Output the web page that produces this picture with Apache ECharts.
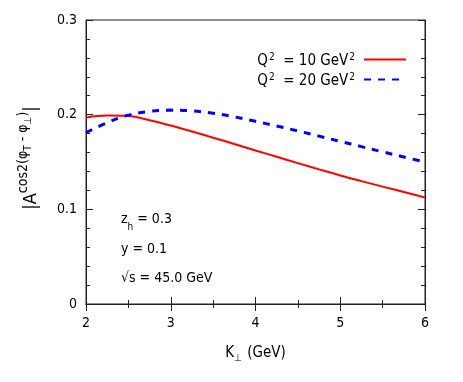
<!DOCTYPE html>
<html>
<head>
<meta charset="utf-8">
<script src="https://cdn.jsdelivr.net/npm/echarts@6/dist/echarts.min.js"></script>
<style>html,body{margin:0;padding:0;background:#fff;}#c{width:463px;height:382px;}</style>
</head>
<body>
<div id="c"></div>
<script>
const kPerp = [2.0, 2.25, 2.5, 2.75, 3.0, 3.25, 3.5, 3.75, 4.0, 4.25, 4.5, 4.75, 5.0, 5.25, 5.5, 5.75, 6.0];
const q2_10 = [0.1970, 0.1990, 0.1985, 0.1942, 0.1885, 0.1822, 0.1757, 0.1690, 0.1622, 0.1555, 0.1488, 0.1422, 0.1358, 0.1298, 0.1240, 0.1183, 0.1125];
const q2_20 = [0.1810, 0.1915, 0.1995, 0.2035, 0.2048, 0.2040, 0.2015, 0.1977, 0.1930, 0.1880, 0.1828, 0.1773, 0.1718, 0.1662, 0.1607, 0.1553, 0.1500];
const seriesNames = ['Q2 = 10', 'Q2 = 20'];
const legendValues = ['10', '20'];
const yTickLabels = {0: '0', 0.1: '0.1', 0.2: '0.2', 0.3: '0.3'};

const FONT = '"DejaVu Sans Condensed", "DejaVu Sans"';
const chart = echarts.init(document.getElementById('c'), null, {renderer: 'canvas'});

function pairs(xs, ys) { return xs.map((x, i) => [x, ys[i]]); }

const AX = '#222';
const axisLine = {show: true, lineStyle: {color: AX, width: 1}};
const axisTick = {show: true, inside: true, length: 7, lineStyle: {color: AX}};
const minorX = {show: true, splitNumber: 2, length: 4, lineStyle: {color: AX}};
const minorY = {show: true, splitNumber: 5, length: 4, lineStyle: {color: AX}};

const legendRich = {
  n: {fontFamily: FONT, fontSize: 15, color: '#000', lineHeight: 19, verticalAlign: 'bottom'},
  s: {fontFamily: FONT, fontSize: 10, color: '#000', lineHeight: 19, verticalAlign: 'top', padding: [2, 0, 0, 1]},
  g: {width: 4}
};

chart.setOption({
  animation: false,
  backgroundColor: '#fff',
  grid: {left: 86, right: 38, top: 20, bottom: 78, show: true, borderColor: AX, borderWidth: 1, backgroundColor: 'transparent'},
  xAxis: [
    {
      type: 'value', min: 2, max: 6, interval: 1,
      axisLine: axisLine, axisTick: axisTick, minorTick: minorX, splitLine: {show: false},
      axisLabel: {fontFamily: FONT, fontSize: 14, color: '#000', margin: 12},
      name: '{n|K}{b|\u22A5}{n| (GeV)}', nameLocation: 'middle', nameGap: 39,
      nameTextStyle: {rich: {
        n: {fontFamily: FONT, fontSize: 15, color: '#000', lineHeight: 20, verticalAlign: 'middle'},
        b: {fontFamily: FONT, fontSize: 10, color: '#000', lineHeight: 10, verticalAlign: 'bottom', padding: [0, 1, 0, 0]}
      }}
    },
    {
      type: 'value', position: 'top', min: 2, max: 6, interval: 1,
      axisLine: axisLine, axisTick: axisTick, minorTick: minorX,
      axisLabel: {show: false}, splitLine: {show: false}
    }
  ],
  yAxis: [
    {
      type: 'value', min: 0, max: 0.3, interval: 0.1,
      axisLine: axisLine, axisTick: axisTick, minorTick: minorY, splitLine: {show: false},
      axisLabel: {fontFamily: FONT, fontSize: 14, color: '#000', margin: 9,
        formatter: v => { const k = Math.round(v * 10) / 10; return yTickLabels[k] !== undefined ? yTickLabels[k] : ''; }}
    },
    {
      type: 'value', position: 'right', min: 0, max: 0.3, interval: 0.1,
      axisLine: axisLine, axisTick: axisTick, minorTick: minorY,
      splitLine: {show: false}, axisLabel: {show: false}
    }
  ],
  legend: {
    orient: 'vertical', right: 56, top: 50, align: 'right', padding: 0,
    itemWidth: 42, itemHeight: 12, itemGap: 1,
    itemStyle: {opacity: 0},
    data: seriesNames,
    formatter: name => '{n|Q}{s|2}{n|  = ' + legendValues[seriesNames.indexOf(name)] + ' GeV}{s|2}{g|}',
    textStyle: {rich: legendRich}
  },
  series: [
    {
      name: seriesNames[0], type: 'line', data: pairs(kPerp, q2_10), smooth: 0.4,
      symbol: 'none', lineStyle: {color: '#ff0000', width: 2}, itemStyle: {color: '#ff0000'}
    },
    {
      name: seriesNames[1], type: 'line', data: pairs(kPerp, q2_20), smooth: 0.4,
      symbol: 'none', lineStyle: {color: '#0000ff', width: 3, type: [7, 7]}, itemStyle: {color: '#0000ff'}
    }
  ],
  graphic: [
    {
      type: 'text', left: 121, top: 212,
      style: {text: '{n|z}{b|h}{n| = 0.3}', rich: {
        n: {fontFamily: FONT, fontSize: 14, color: '#000', lineHeight: 20, verticalAlign: 'top'},
        b: {fontFamily: FONT, fontSize: 10, color: '#000', lineHeight: 20, verticalAlign: 'bottom'}
      }}
    },
    {
      type: 'text', left: 121, top: 242,
      style: {text: 'y = 0.1', font: '14px "DejaVu Sans Condensed", "DejaVu Sans"', fill: '#000'}
    },
    {
      type: 'text', left: 121, top: 271,
      style: {text: '\u221As = 45.0 GeV', font: '14px "DejaVu Sans Condensed", "DejaVu Sans"', fill: '#000'}
    },
    {
      type: 'text', x: 28, y: 158, rotation: Math.PI / 2,
      style: {
        text: '{n||A}{s|cos2(\u03C6}{ss|T}{s| - \u03C6}{ss|\u22A5}{s|)}{n||}',
        align: 'center', verticalAlign: 'middle',
        rich: {
          n: {fontFamily: FONT, fontSize: 18, color: '#000', lineHeight: 24, verticalAlign: 'bottom'},
          s: {fontFamily: FONT, fontSize: 14, color: '#000', lineHeight: 24, verticalAlign: 'top'},
          ss: {fontFamily: FONT, fontSize: 10, color: '#000', lineHeight: 24, verticalAlign: 'middle'}
        }
      }
    }
  ]
});
</script>
</body>
</html>
